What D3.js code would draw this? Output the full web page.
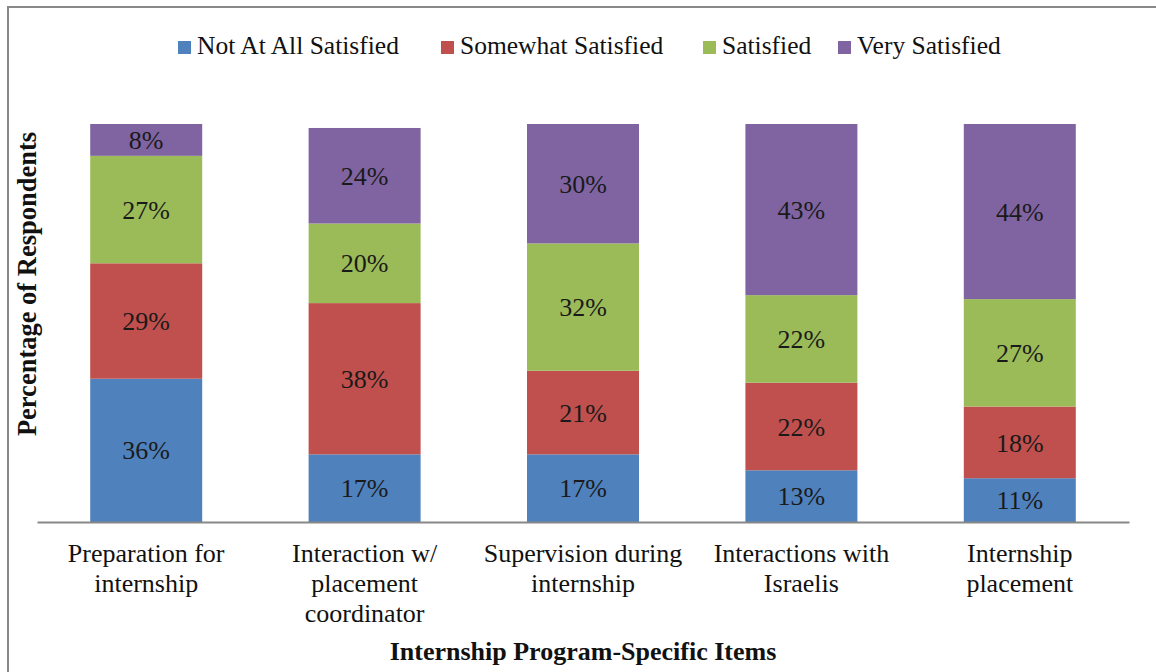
<!DOCTYPE html>
<html>
<head>
<meta charset="utf-8">
<script src="https://cdn.jsdelivr.net/npm/d3@7"></script>
<style>
  body { margin: 0; background: #fff; }
  svg text { font-family: 'Liberation Serif', 'Times New Roman', serif; }
</style>
</head>
<body>
<svg id="drawspace" width="1156" height="672"></svg>
<script>
// chart values
const categories = [
  ["Preparation for", "internship"],
  ["Interaction w/", "placement", "coordinator"],
  ["Supervision during", "internship"],
  ["Interactions with", "Israelis"],
  ["Internship", "placement"]
];
const seriesNames = ["Not At All Satisfied", "Somewhat Satisfied", "Satisfied", "Very Satisfied"];
const notAtAll = [36, 17, 17, 13, 11];
const somewhat = [29, 38, 21, 22, 18];
const satisfied = [27, 20, 32, 22, 27];
const verySatisfied = [8, 24, 30, 43, 44];

const colors = ["#4F81BD", "#C0504D", "#9BBB59", "#8064A2"];
const serif = "'Liberation Serif', 'Times New Roman', serif";

let drawspace = d3.select("#drawspace");

// frame around the chart
drawspace.append("rect")
  .attr("x", 8).attr("y", 7)
  .attr("width", 1160).attr("height", 680)
  .attr("fill", "none")
  .attr("stroke", "#888")
  .attr("stroke-width", 2);

const keys = categories.map((c) => c.join(" "));
const rows = keys.map((k, i) => ({
  key: k,
  s0: notAtAll[i],
  s1: somewhat[i],
  s2: satisfied[i],
  s3: verySatisfied[i]
}));

const stack = d3.stack().keys(["s0", "s1", "s2", "s3"]);
const layers = stack(rows);

var xScale = d3.scaleBand()
  .domain(keys)
  .range([37, 1129])
  .paddingInner(0.4872)
  .paddingOuter(0.2436);

var yScale = d3.scaleLinear()
  .domain([0, 100])
  .range([522, 124]);

// bars
var layer = drawspace.selectAll(".layer")
  .data(layers)
  .enter()
  .append("g")
  .attr("class", "layer")
  .attr("fill", (d, i) => colors[i]);

layer.selectAll("rect")
  .data((d) => d)
  .enter()
  .append("rect")
  .attr("x", (d) => xScale(d.data.key))
  .attr("y", (d) => yScale(d[1]))
  .attr("width", xScale.bandwidth())
  .attr("height", (d) => yScale(d[0]) - yScale(d[1]));

layer.selectAll("text")
  .data((d) => d)
  .enter()
  .append("text")
  .attr("x", (d) => xScale(d.data.key) + xScale.bandwidth() / 2)
  .attr("y", (d) => (yScale(d[0]) + yScale(d[1])) / 2)
  .attr("dy", "0.35em")
  .attr("text-anchor", "middle")
  .attr("font-size", "26px")
  .style("font-family", serif)
  .attr("fill", "#1a1a1a")
  .text((d) => (d[1] - d[0]) + "%");

// x axis
var xAxis = drawspace.append("g")
  .attr("transform", "translate(0,522)")
  .call(d3.axisBottom(xScale).tickSize(0).tickFormat(""));
xAxis.select(".domain").attr("stroke", "#888").attr("stroke-width", 2);

var labels = drawspace.append("g")
  .selectAll("text")
  .data(categories)
  .enter()
  .append("text")
  .attr("text-anchor", "middle")
  .attr("font-size", "26px")
  .style("font-family", serif)
  .attr("fill", "#111")
  .attr("transform", (d, i) => "translate(" + (xScale(keys[i]) + xScale.bandwidth() / 2) + ",562)");

labels.selectAll("tspan")
  .data((d) => d)
  .enter()
  .append("tspan")
  .attr("x", 0)
  .attr("y", (d, i) => i * 30)
  .text((d) => d);

// axis titles
drawspace.append("text")
  .attr("x", 583)
  .attr("y", 660)
  .attr("text-anchor", "middle")
  .attr("font-size", "26px")
  .attr("font-weight", "bold")
  .style("font-family", serif)
  .attr("fill", "#111")
  .text("Internship Program-Specific Items");

drawspace.append("text")
  .attr("transform", "translate(36,284) rotate(-90)")
  .attr("text-anchor", "middle")
  .attr("font-size", "26.5px")
  .attr("font-weight", "bold")
  .style("font-family", serif)
  .attr("fill", "#111")
  .text("Percentage of Respondents");

// legend
const legendX = [178, 441, 703, 838];
var legend = drawspace.append("g")
  .selectAll("g")
  .data(seriesNames)
  .enter()
  .append("g")
  .attr("transform", (d, i) => "translate(" + legendX[i] + ",41)");

legend.append("rect")
  .attr("width", 13).attr("height", 13)
  .attr("fill", (d, i) => colors[i]);

legend.append("text")
  .attr("x", 19)
  .attr("y", 13)
  .attr("font-size", "25.5px")
  .style("font-family", serif)
  .attr("fill", "#111")
  .text((d) => d);
</script>
</body>
</html>
